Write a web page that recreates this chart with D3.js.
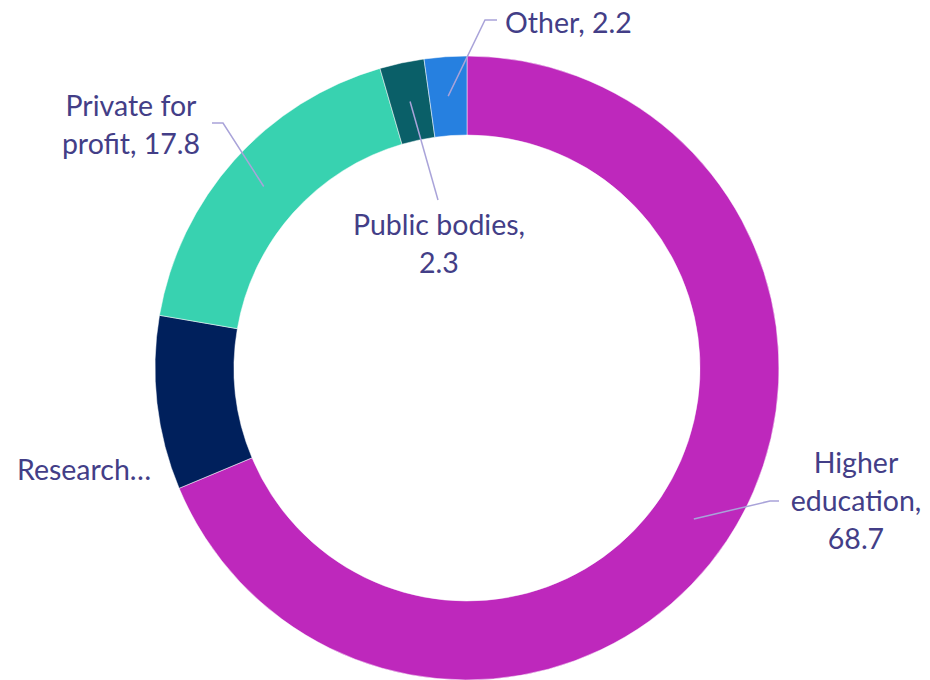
<!DOCTYPE html>
<html>
<head>
<meta charset="utf-8">
<script src="https://cdn.jsdelivr.net/npm/d3@7"></script>
<style>
  html, body { margin: 0; padding: 0; background: #fff; }
  text { font-family: Lato, "Open Sans", sans-serif; fill: #433E87; }
</style>
</head>
<body>
<svg id="chart" width="930" height="680"></svg>
<script>
// data
var categories = ["Higher education", "Research organisations", "Private for profit", "Public bodies", "Other"];
var values     = [68.7, 9.0, 17.8, 2.3, 2.2];
var labelLines = [
  ["Higher", "education,", "68.7"],
  ["Research\u2026"],
  ["Private for", "profit, 17.8"],
  ["Public bodies,", "2.3"],
  ["Other, 2.2"]
];
var colors = ["#BE28BC", "#00205C", "#38D2B0", "#0A5F68", "#2680E0"];

// layout
var cx = 467, cy = 368;
var outerR = 312, innerR = 233;
var lineH = 38;

// where each label sits: text anchor x, first baseline y, elbow point (null = no leader)
var labelPos = [
  { x: 856, y: 473, anchor: "middle", elbow: [770, 501], end: [779, 501] },
  { x: 17,  y: 480, anchor: "start",  elbow: null },
  { x: 131, y: 116, anchor: "middle", elbow: [223, 123], end: [212, 123] },
  { x: 439, y: 235, anchor: "middle", elbow: [438, 200], end: null },
  { x: 505, y: 33,  anchor: "start",  elbow: [485, 20],  end: [497, 20] }
];

var svg = d3.select("#chart");
var g = svg.append("g").attr("transform", "translate(" + cx + "," + cy + ")");

var pie = d3.pie().sort(null).value(function(d) { return d; });
var arc = d3.arc().innerRadius(innerR).outerRadius(outerR);
var arcs = pie(values);

g.selectAll("path.slice")
  .data(arcs)
  .enter().append("path")
  .attr("class", "slice")
  .attr("d", arc)
  .attr("fill", function(d, i) { return colors[i]; })
  .attr("stroke", "#fff")
  .attr("stroke-width", 0.5);

// leader lines
arcs.forEach(function(d, i) {
  var p = labelPos[i];
  if (!p.elbow) return;
  var c = arc.centroid(d);
  var pts = [[c[0] + cx, c[1] + cy], p.elbow];
  if (p.end) pts.push(p.end);
  svg.append("path")
    .attr("d", d3.line()(pts))
    .attr("fill", "none")
    .attr("stroke", "#A9A3D9")
    .attr("stroke-width", 1.5);
});

// labels
labelLines.forEach(function(lines, i) {
  var p = labelPos[i];
  var t = svg.append("text")
    .attr("text-anchor", p.anchor)
    .style("font-size", "28.5px");
  lines.forEach(function(l, j) {
    t.append("tspan")
      .attr("x", p.x)
      .attr("y", p.y + j * lineH)
      .text(l);
  });
});
</script>
</body>
</html>
